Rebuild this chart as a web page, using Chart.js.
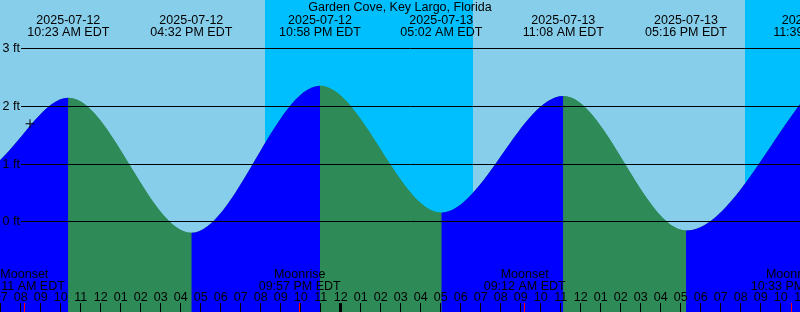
<!DOCTYPE html>
<html>
<head>
<meta charset="utf-8">
<script src="https://cdn.jsdelivr.net/npm/chart.js@4.4.1/dist/chart.umd.min.js"></script>
<style>
    html, body { margin: 0; padding: 0; background: #87ceeb; }
    #wrap { width: 800px; height: 312px; }
</style>
</head>
<body>
<div id="wrap"><canvas id="tideChart" width="800" height="312"></canvas></div>
<script>
// Datos
const stationName = "Garden Cove, Key Largo, Florida";
const windowStart = "2025-07-12 06:58";
const windowEnd = "2025-07-13 22:58";
const startFeet = 1.06; // nivel en el borde izquierdo

// Pleamares y bajamares
const tideTimes = ["2025-07-12 10:23", "2025-07-12 16:32", "2025-07-12 22:58", "2025-07-13 05:02", "2025-07-13 11:08", "2025-07-13 17:16", "2025-07-13 23:39"];
const tideDates = ["2025-07-12", "2025-07-12", "2025-07-12", "2025-07-13", "2025-07-13", "2025-07-13", "2025-07-13"];
const tideClock = ["10:23 AM EDT", "04:32 PM EDT", "10:58 PM EDT", "05:02 AM EDT", "11:08 AM EDT", "05:16 PM EDT", "11:39 PM EDT"];
const tideFeet = [2.14, -0.20, 2.35, 0.15, 2.17, -0.16, 2.32];

// Luna
const moonTimes = ["2025-07-12 08:11", "2025-07-12 21:57", "2025-07-13 09:12", "2025-07-13 22:33"];
const moonEvents = ["Moonset", "Moonrise", "Moonset", "Moonrise"];
const moonClock = ["08:11 AM EDT", "09:57 PM EDT", "09:12 AM EDT", "10:33 PM EDT"];

// Noche (fondo más intenso)
const nightStarts = ["2025-07-12 20:13", "2025-07-13 20:13"];
const nightEnds = ["2025-07-13 06:36", "2025-07-14 06:37"];

// Niveles de referencia
const depthLevels = [0, 1, 2, 3];
const depthLabels = ["0 ft", "1 ft", "2 ft", "3 ft"];

// Marca "+"
const markerTime = "2025-07-12 08:28";
const markerFeet = 1.69;

const yMin = -1.572;
const yMax = 3.835;
const FONT = "12.5px 'Liberation Sans', Arial, sans-serif";

// Horas desde 2025-07-12 00:00
function toHours(s) {
    const [d, t] = s.split(" ");
    const day = parseInt(d.slice(8), 10) - 12;
    const [h, m] = t.split(":").map(Number);
    return day * 24 + h + m / 60;
}

const bandsPlugin = {
    id: "bands",
    beforeDatasetsDraw(chart) {
        const { ctx, chartArea: a, scales: { x } } = chart;
        ctx.save();
        ctx.fillStyle = "#87ceeb";
        ctx.fillRect(a.left, a.top, a.width, a.height);
        ctx.fillStyle = "#00bfff";
        nightStarts.forEach((s, i) => {
            const x0 = Math.max(a.left, Math.round(x.getPixelForValue(toHours(s))));
            const x1 = Math.min(a.right, Math.round(x.getPixelForValue(toHours(nightEnds[i]))));
            if (x1 > x0) ctx.fillRect(x0, a.top, x1 - x0, a.height);
        });
        ctx.restore();
    }
};

const labelsPlugin = {
    id: "labels",
    afterDatasetsDraw(chart) {
        const { ctx, chartArea: a, scales: { x, y } } = chart;
        ctx.save();
        ctx.font = FONT;
        ctx.fillStyle = "#000";
        ctx.strokeStyle = "#000";
        ctx.lineWidth = 1;

        // Líneas de nivel
        depthLevels.forEach((lv, i) => {
            const py = Math.round(y.getPixelForValue(lv)) + 0.5;
            ctx.beginPath();
            ctx.moveTo(21, py);
            ctx.lineTo(a.right, py);
            ctx.stroke();
            ctx.textAlign = "left";
            ctx.fillText(depthLabels[i], 2.5, py + 3.5);
        });

        // Título
        ctx.textAlign = "center";
        ctx.fillText(stationName, 400, 11);

        // Etiquetas de pleamar/bajamar
        tideTimes.forEach((t, i) => {
            const px = x.getPixelForValue(toHours(t));
            ctx.fillText(tideDates[i], px, 24);
            ctx.fillText(tideClock[i], px, 36);
        });

        // Luna
        moonTimes.forEach((t, i) => {
            const px = x.getPixelForValue(toHours(t));
            ctx.fillText(moonEvents[i], px, 277.5);
            ctx.fillText(moonClock[i], px, 290);
            ctx.fillStyle = "#ff0000";
            ctx.fillRect(Math.floor(px), 303, 1, 9);
            ctx.fillStyle = "#000";
        });

        // Horas
        const h0 = Math.ceil(x.min);
        const h1 = Math.floor(x.max) + 1;
        for (let h = h0; h <= h1; h++) {
            const px = x.getPixelForValue(h);
            const hh = (h % 12) || 12;
            ctx.fillText(String(hh).padStart(2, "0"), px, 301);
            if (h % 24 === 0) {
                ctx.fillRect(Math.floor(px) - 1, 303, 3, 9);
            } else {
                ctx.fillRect(Math.floor(px), 303, 1, 9);
            }
        }
        ctx.restore();
    }
};

const ctx = document.getElementById("tideChart").getContext("2d");

const tidePoints = [{ x: toHours(windowStart), y: startFeet }]
    .concat(tideTimes.map((t, i) => ({ x: toHours(t), y: tideFeet[i] })));

const tideStyle = {
    borderWidth: 0,
    borderColor: "rgba(0,0,0,0)",
    pointRadius: 0,
    pointHoverRadius: 0,
    fill: "start",
    cubicInterpolationMode: "monotone"
};

new Chart(ctx, {
    type: "line",
    data: {
        datasets: [{
            ...tideStyle,
            label: "Marea",
            data: tidePoints,
            order: 1,
            backgroundColor: "#0000ff",
            segment: {
                backgroundColor: c => c.p1.parsed.y > c.p0.parsed.y ? "#0000ff" : "#2e8b57"
            }
        }, {
            // capa inferior para tapar las juntas entre tramos
            ...tideStyle,
            label: "Fondo",
            data: tidePoints,
            order: 2,
            backgroundColor: "#2e8b57"
        }, {
            label: "Marca",
            data: [{ x: toHours(markerTime), y: markerFeet }],
            order: 0,
            showLine: false,
            fill: false,
            pointStyle: "cross",
            pointRadius: 4.5,
            borderColor: "#000",
            borderWidth: 1
        }]
    },
    options: {
        responsive: false,
        animation: false,
        devicePixelRatio: 1,
        layout: { padding: 0, autoPadding: false },
        plugins: {
            legend: { display: false },
            tooltip: { enabled: false }
        },
        scales: {
            x: { type: "linear", min: toHours(windowStart), max: toHours(windowEnd), display: false },
            y: { min: yMin, max: yMax, display: false }
        }
    },
    plugins: [bandsPlugin, labelsPlugin]
});
</script>
</body>
</html>
